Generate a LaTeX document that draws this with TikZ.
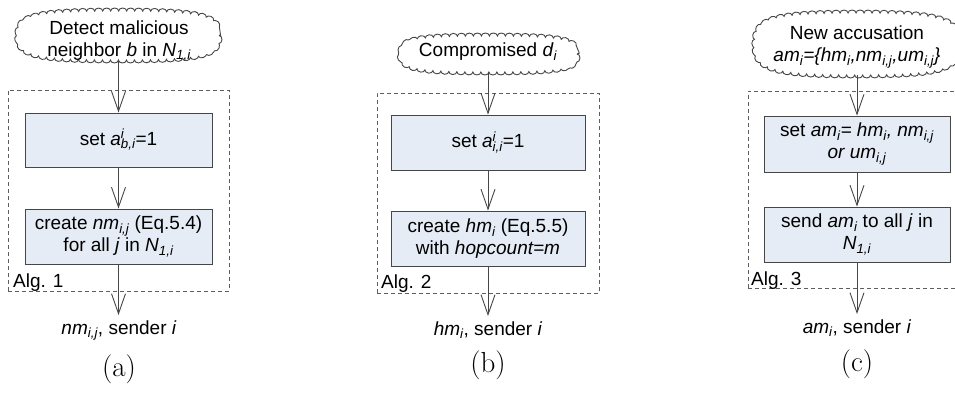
\documentclass[tikz,border=0pt]{standalone}
\usepackage{fontspec}
\newfontfamily\arialf{Liberation Sans}
\usetikzlibrary{arrows.meta,decorations.pathmorphing}
\definecolor{boxblue}{RGB}{230,236,246}
\definecolor{linegray}{RGB}{70,70,70}
\definecolor{dashgray}{RGB}{95,95,95}
\newcommand\sbx[1]{\textsubscript{\itshape #1}}
\newcommand\supsubx[2]{\rlap{\textsuperscript{\itshape #1}}\textsubscript{\itshape #2}}
% cloud outline around a named node: #1 node, #2 half width, #3 half height
\newcommand\cloudoutline[3]{%
  \begin{scope}[shift={(#1.center)}]
  \draw[cloudstroke] (#2,0) .. controls (#2,0.82*#3) and (0.82*#2,#3) .. (0,#3)
     .. controls (-0.82*#2,#3) and (-#2,0.82*#3) .. (-#2,0)
     .. controls (-#2,-0.82*#3) and (-0.82*#2,-#3) .. (0,-#3)
     .. controls (0.82*#2,-#3) and (#2,-0.82*#3) .. (#2,0) -- cycle;
  \end{scope}}
\tikzset{
  difont/.style={font=\arialf\fontsize{19}{22}\selectfont},
  flowbox/.style={difont, draw=linegray, line width=0.9pt, fill=boxblue, align=center, inner sep=0pt},
  algframe/.style={draw=dashgray, line width=0.9pt, dash pattern=on 4pt off 3pt, inner sep=0pt},
  flowarrow/.style={draw=linegray, line width=0.9pt, -{Straight Barb[length=20pt,width=14pt,line width=0.9pt]}},
  cloudstroke/.style={draw=linegray, line width=0.9pt, fill=white,
    decorate, decoration={bumps, segment length=16pt, amplitude=3pt}},
  cloudcore/.style={inner sep=0pt},
  txt/.style={difont, align=center, inner sep=0pt},
  outtxt/.style={difont, anchor=base, inner xsep=0pt, inner ysep=5pt},
  algtxt/.style={difont, anchor=base west, inner sep=0pt},
  sublabel/.style={font=\fontsize{29}{32}\selectfont, anchor=base, inner sep=0pt}
}
\begin{document}
\begin{tikzpicture}[x=1pt,y=-1pt]
\clip (0,0) rectangle (955,394);
% ---------- (a) ----------
\node[cloudcore, minimum width=201, minimum height=49] (cA) at (118.5,35.5) {};
\cloudoutline{cA}{100.5}{24.5}
\node[txt] (tA) at (119,41) {Detect malicious\\neighbor \textit{b} in \textit{N}\sbx{1,i}};
\node[algframe, minimum width=221, minimum height=201] (fA) at (118.5,190.5) {};
\node[algtxt] (gA) at (13,287) {Alg. 1};
\node[flowbox, minimum width=187, minimum height=54] (bA1) at (118.5,140) {set \textit{a}\supsubx{i}{b,i}=1};
\node[flowbox, minimum width=187, minimum height=55] (bA2) at (118.5,236.5) {create \textit{nm}\sbx{i,j} (Eq.5.4)\\for all \textit{j} in \textit{N}\sbx{1,i}};
\node[outtxt] (oA) at (119,334) {\textit{nm}\sbx{i,j}, sender \textit{i}};
\node[sublabel] (lA) at (119,376) {(a)};
\draw[flowarrow] (bA1.north |- cA.south) -- (bA1.north);
\draw[flowarrow] (bA1.south) -- (bA2.north);
\draw[flowarrow] (bA2.south) -- (bA2.south |- oA.north);
% ---------- (b) ----------
\node[cloudcore, minimum width=176, minimum height=36] (cB) at (489,54) {};
\cloudoutline{cB}{88}{18}
\node[txt] (tB) at (488,52) {Compromised \textit{d}\sbx{i}};
\node[algframe, minimum width=222, minimum height=200] (fB) at (488,193) {};
\node[algtxt] (gB) at (381,288) {Alg. 2};
\node[flowbox, minimum width=194, minimum height=55] (bB1) at (488,142.5) {set \textit{a}\supsubx{i}{i,i}=1};
\node[flowbox, minimum width=194, minimum height=55] (bB2) at (488,238.5) {create \textit{hm}\sbx{i} (Eq.5.5)\\with \textit{hopcount=m}};
\node[outtxt] (oB) at (488,335) {\textit{hm}\sbx{i}, sender \textit{i}};
\node[sublabel] (lB) at (488,372) {(b)};
\draw[flowarrow] (bB1.north |- cB.south) -- (bB1.north);
\draw[flowarrow] (bB1.south) -- (bB2.north);
\draw[flowarrow] (bB2.south) -- (bB2.south |- oB.north);
% ---------- (c) ----------
\node[cloudcore, minimum width=204, minimum height=62] (cC) at (857,44) {};
\cloudoutline{cC}{102}{31}
\node[txt] (tC) at (857,47) {New accusation\\\textit{am}\sbx{i}\textit{=\{hm}\sbx{i}\textit{,nm}\sbx{i,j}\textit{,um}\sbx{i,j}\textit{\}}};
\node[algframe, minimum width=218, minimum height=197] (fC) at (857,189.5) {};
\node[algtxt] (gC) at (751,285) {Alg. 3};
\node[flowbox, minimum width=186, minimum height=56] (bC1) at (857,144) {set \textit{am}\sbx{i}\textit{= hm}\sbx{i}\textit{, nm}\sbx{i,j}\\\textit{or um}\sbx{i,j}};
\node[flowbox, minimum width=186, minimum height=55] (bC2) at (857,234.5) {send \textit{am}\sbx{i} to all \textit{j} in\\\textit{N}\sbx{1,i}};
\node[outtxt] (oC) at (857,333) {\textit{am}\sbx{i}, sender \textit{i}};
\node[sublabel] (lC) at (857,371) {(c)};
\draw[flowarrow] (bC1.north |- cC.south) -- (bC1.north);
\draw[flowarrow] (bC1.south) -- (bC2.north);
\draw[flowarrow] (bC2.south) -- (bC2.south |- oC.north);
\end{tikzpicture}
\end{document}
